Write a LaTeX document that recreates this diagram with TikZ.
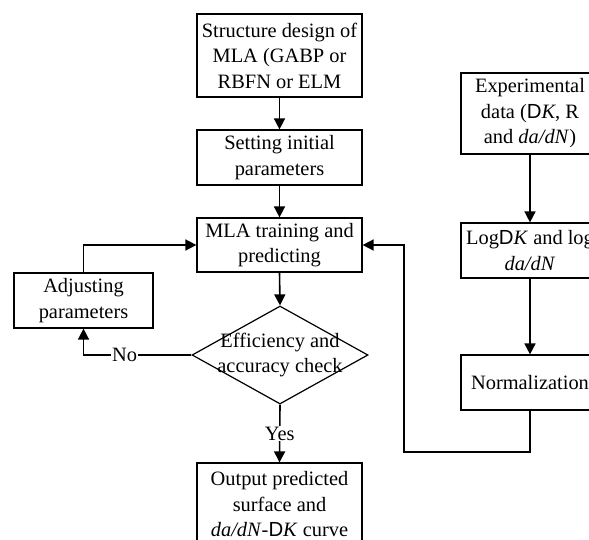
\documentclass[tikz,border=0pt]{standalone}
\usepackage{fontspec}
\setmainfont{Liberation Serif}
\newfontfamily\dsf{Liberation Sans}
\usetikzlibrary{arrows.meta,shapes.geometric}
\newcommand{\DK}{{\dsf D}\textit{K}}
\tikzset{
  box/.style={draw, line width=1.2pt, inner sep=0pt, align=center, minimum width=165pt, minimum height=55pt},
  rbox/.style={draw, line width=1.2pt, inner sep=0pt, align=center, minimum width=138pt, minimum height=55pt},
  arr/.style={line width=1.6pt, -{Triangle[length=11pt,width=11pt]}},
  ln/.style={line width=1.6pt},
  lab/.style={fill=white, inner sep=1pt}
}
\begin{document}
\begin{tikzpicture}[x=1pt,y=-1pt,font=\fontsize{20.4}{25.5}\selectfont]
\useasboundingbox (0,0) rectangle (589,539);
\clip (0,0) rectangle (589,539);
\fill[white] (0,0) rectangle (589,539);
\node[box, minimum height=83pt] (s1) at (279.5,55.5) {Structure design of\\MLA (GABP or\\RBFN or ELM};
\node[box] (s2) at (279.5,157.5) {Setting initial\\parameters};
\node[box, minimum height=54pt] (s3) at (279.5,245) {MLA training and\\predicting};
\node[draw, diamond, line width=1.2pt, inner sep=0pt, minimum width=176pt, minimum height=98pt] (d) at (280,355) {};
\node[align=center, inner sep=0pt] (dt) at (d.center) {Efficiency and\\accuracy check};
\node[box, minimum width=139pt] (adj) at (83.5,300.5) {Adjusting\\parameters};
\node[box, minimum height=83pt] (out) at (279.5,504.5) {Output predicted\\surface and\\\textit{da/dN}-\DK{} curve};
\node[rbox, minimum height=81pt] (exp) at (530,113.5) {Experimental\\data (\DK, R\\and \textit{da/dN})};
\node[rbox] (log) at (530,250.5) {Log\DK{} and log\\\textit{da/dN}};
\node[rbox] (norm) at (530,382.5) {Normalization};
\coordinate (c1) at (404,452);

\draw[arr] (s1.south) -- (s2.north);
\draw[arr] (s2.south) -- (s3.north);
\draw[arr] (s3.south) -- (d.north);
\draw[arr] (d.west) -- node[lab, pos=0.62] (no) {No} (adj.south |- d.west) -- (adj.south);
\draw[arr] (adj.north) |- (s3.west);
\draw[arr] (d.south) -- node[lab] (yes) {Yes} (out.north);
\draw[arr] (exp.south) -- (log.north);
\draw[arr] (log.south) -- (norm.north);
\draw[arr] (norm.south) |- (c1) |- (s3.east);
\end{tikzpicture}
\end{document}
